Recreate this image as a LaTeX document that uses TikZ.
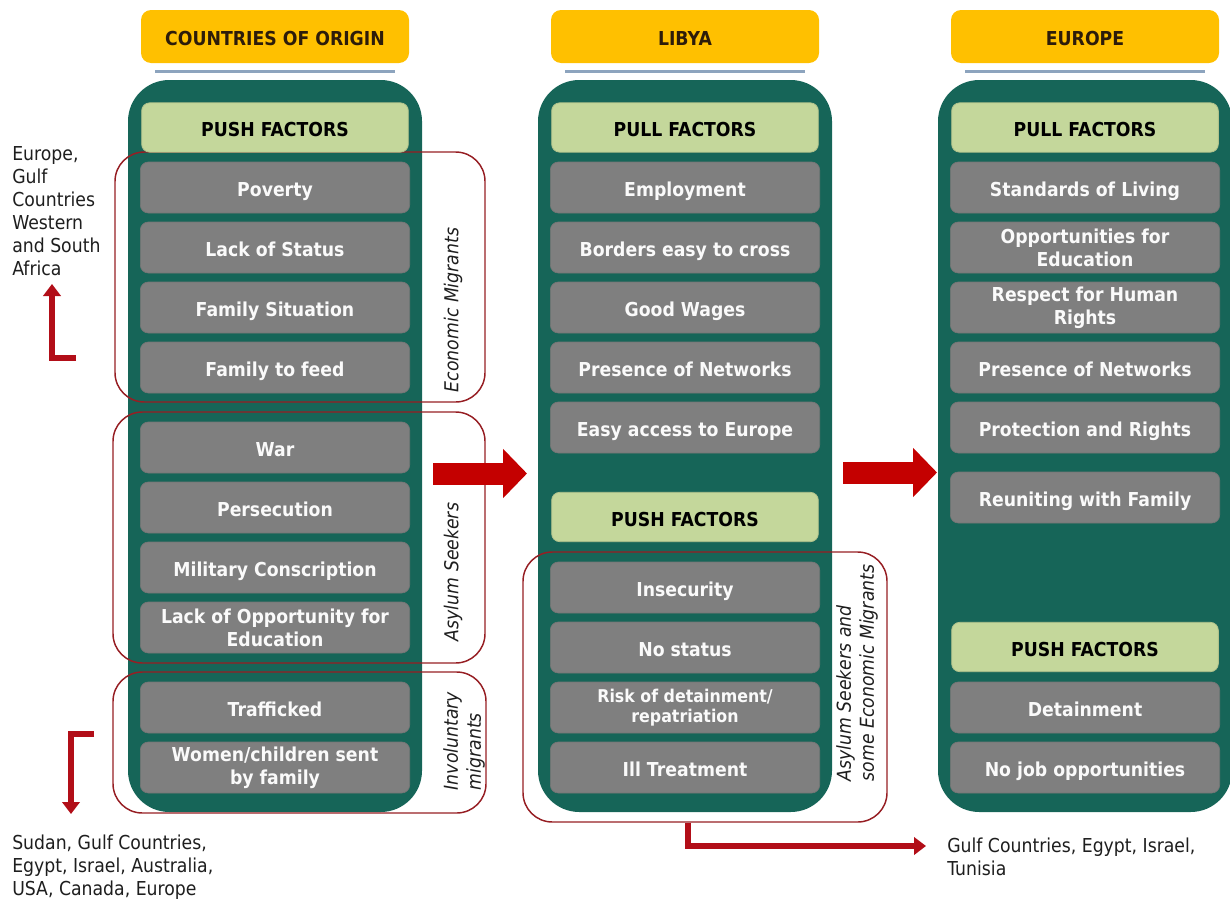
\documentclass[tikz,border=0pt]{standalone}
\usepackage{fontspec}
\setmainfont{DejaVu Sans}[FakeStretch=0.9]
\usetikzlibrary{arrows.meta}
\definecolor{tealc}{RGB}{22,101,88}
\definecolor{yel}{RGB}{255,192,0}
\definecolor{hdr}{RGB}{45,28,10}
\definecolor{grn}{RGB}{196,215,155}
\definecolor{gry}{RGB}{127,127,127}
\definecolor{bline}{RGB}{141,164,190}
\definecolor{redA}{RGB}{196,0,0}
\definecolor{redL}{RGB}{178,14,24}
\definecolor{redB}{RGB}{150,30,35}
\definecolor{txt}{RGB}{30,30,30}
\newcommand\fsz{\fontsize{14.4}{17.25}\selectfont}
\newcommand\fsm{\fontsize{13.2}{15.5}\selectfont}
\begin{document}
\begin{tikzpicture}[x=0.75pt,y=-0.75pt,font=\fsz,
  column/.style={fill=tealc,rounded corners=31pt,minimum width=220.5pt,minimum height=549pt,inner sep=0pt},
  oneline/.style={text height=14.2pt,text depth=0pt},
  header/.style={oneline,fill=yel,rounded corners=7.5pt,minimum width=201pt,minimum height=39.75pt,inner sep=0pt,text=hdr,font=\fsz\bfseries},
  hrule/.style={draw=bline,line width=1.6pt},
  factor/.style={oneline,fill=grn,draw=grn!90!black,line width=0.6pt,rounded corners=6pt,minimum width=200pt,minimum height=37pt,inner sep=0pt,text=black,font=\fsz\bfseries},
  itemtwo/.style={fill=gry,draw=gry!92!black,line width=0.5pt,rounded corners=6pt,minimum width=202pt,minimum height=38.25pt,inner sep=1pt,align=center,text=white!96!gray,font=\fsz\bfseries},
  item/.style={itemtwo,oneline},
  group/.style={draw=redB,line width=1.1pt,rounded corners=22pt,inner sep=0pt},
  grouplabel/.style={rotate=90,font=\fsz\itshape,align=left,text=txt,inner sep=0pt},
  note/.style={align=left,anchor=north west,inner sep=0pt,text=txt},
  flow/.style={draw=redL,line width=4.6pt,-{Triangle[width=13pt,length=9pt]}},
  bigflow/.style={draw=redA,line width=16.5pt,-{Triangle[width=36pt,length=18pt]}}
]
\useasboundingbox (0,0) rectangle (1230,903);

% columns
\node[column] (c1) at (275,446) {};
\node[column] (c2) at (685,446) {};
\node[column] (c3) at (1085,446) {};

% headers
\node[header] (h1) at (275,36.5) {COUNTRIES OF ORIGIN};
\node[header] (h2) at (685,36.5) {LIBYA};
\node[header] (h3) at (1085,36.5) {EUROPE};
\draw[hrule] (155,71.5) -- (395,71.5);
\draw[hrule] (565,71.5) -- (805,71.5);
\draw[hrule] (965,71.5) -- (1205,71.5);

% groups
\node[group,minimum width=277.5pt,minimum height=187.5pt] (gEcon) at (300,277) {};
\node[group,minimum width=279pt,minimum height=188.25pt] (gAsyl) at (299,537.5) {};
\node[group,minimum width=279.75pt,minimum height=105.75pt] (gInv) at (299.5,742.5) {};
\node[group,minimum width=273pt,minimum height=202.5pt] (gLib) at (705,687) {};

% column 1
\node[factor] (p1) at (275,127.5) {PUSH FACTORS};
\node[item] (o1) at (275,187.5) {Poverty};
\node[item] (o2) at (275,247.5) {Lack of Status};
\node[item] (o3) at (275,307.5) {Family Situation};
\node[item] (o4) at (275,367.5) {Family to feed};
\node[item] (o5) at (275,447.5) {War};
\node[item] (o6) at (275,507.5) {Persecution};
\node[item] (o7) at (275,567.5) {Military Conscription};
\node[itemtwo] (o8) at (275,627.5) {Lack of Opportunity for\\Education};
\node[item] (o9) at (275,707.5) {Trafficked};
\node[itemtwo] (o10) at (275,767.5) {Women/children sent\\by family};

% column 2
\node[factor] (q2) at (685,127.5) {PULL FACTORS};
\node[item] (l1) at (685,187.5) {Employment};
\node[item] (l2) at (685,247.5) {Borders easy to cross};
\node[item] (l3) at (685,307.5) {Good Wages};
\node[item] (l4) at (685,367.5) {Presence of Networks};
\node[item] (l5) at (685,427.5) {Easy access to Europe};
\node[factor] (s2) at (685,517) {PUSH FACTORS};
\node[item] (l6) at (685,587.5) {Insecurity};
\node[item] (l7) at (685,647.5) {No status};
\node[itemtwo,font=\fsm\bfseries] (l8) at (685,707.5) {Risk of detainment/\\repatriation};
\node[item] (l9) at (685,767.5) {Ill Treatment};

% column 3
\node[factor] (q3) at (1085,127.5) {PULL FACTORS};
\node[item] (e1) at (1085,187.5) {Standards of Living};
\node[itemtwo] (e2) at (1085,247.5) {Opportunities for\\Education};
\node[itemtwo] (e3) at (1085,307.5) {Respect for Human\\Rights};
\node[item] (e4) at (1085,367.5) {Presence of Networks};
\node[item] (e5) at (1085,427.5) {Protection and Rights};
\node[item] (e6) at (1085,497.5) {Reuniting with Family};
\node[factor] (s3) at (1085,647) {PUSH FACTORS};
\node[item] (e7) at (1085,707.5) {Detainment};
\node[item] (e8) at (1085,767.5) {No job opportunities};

% group labels
\node[grouplabel] (tEcon) at (453,310) {Economic Migrants};
\node[grouplabel] (tAsyl) at (453,572) {Asylum Seekers};
\node[grouplabel] (tInv) at (464,741) {Involuntary\\migrants};
\node[grouplabel] (tLib) at (857,673) {Asylum Seekers and\\some Economic Migrants};

% destination notes
\node[note] (d1) at (12,146) {Europe,\\Gulf\\Countries\\Western\\and South\\Africa};
\node[note] (d2) at (12,835) {Sudan, Gulf Countries,\\Egypt, Israel, Australia,\\USA, Canada, Europe};
\node[note] (d3) at (947,838) {Gulf Countries, Egypt, Israel,\\Tunisia};

% big arrows between columns
\coordinate (a1s) at (433,473.5);
\coordinate (a1e) at (527,473.5);
\coordinate (a2s) at (843,472.5);
\coordinate (a2e) at (937,472.5);
\draw[bigflow] (a1s) -- (a1e);
\draw[bigflow] (a2s) -- (a2e);

% side flows
\coordinate (upS) at (76,358);
\coordinate (upE) at (52,284);
\draw[flow] (upS) -| (upE);
\coordinate (dnS) at (94,734);
\coordinate (dnE) at (71,814);
\draw[flow] (dnS) -| (dnE);
\coordinate (lbE) at (926,846);
\draw[flow] ([xshift=-12.75pt]gLib.south) |- (lbE);
\end{tikzpicture}
\end{document}
